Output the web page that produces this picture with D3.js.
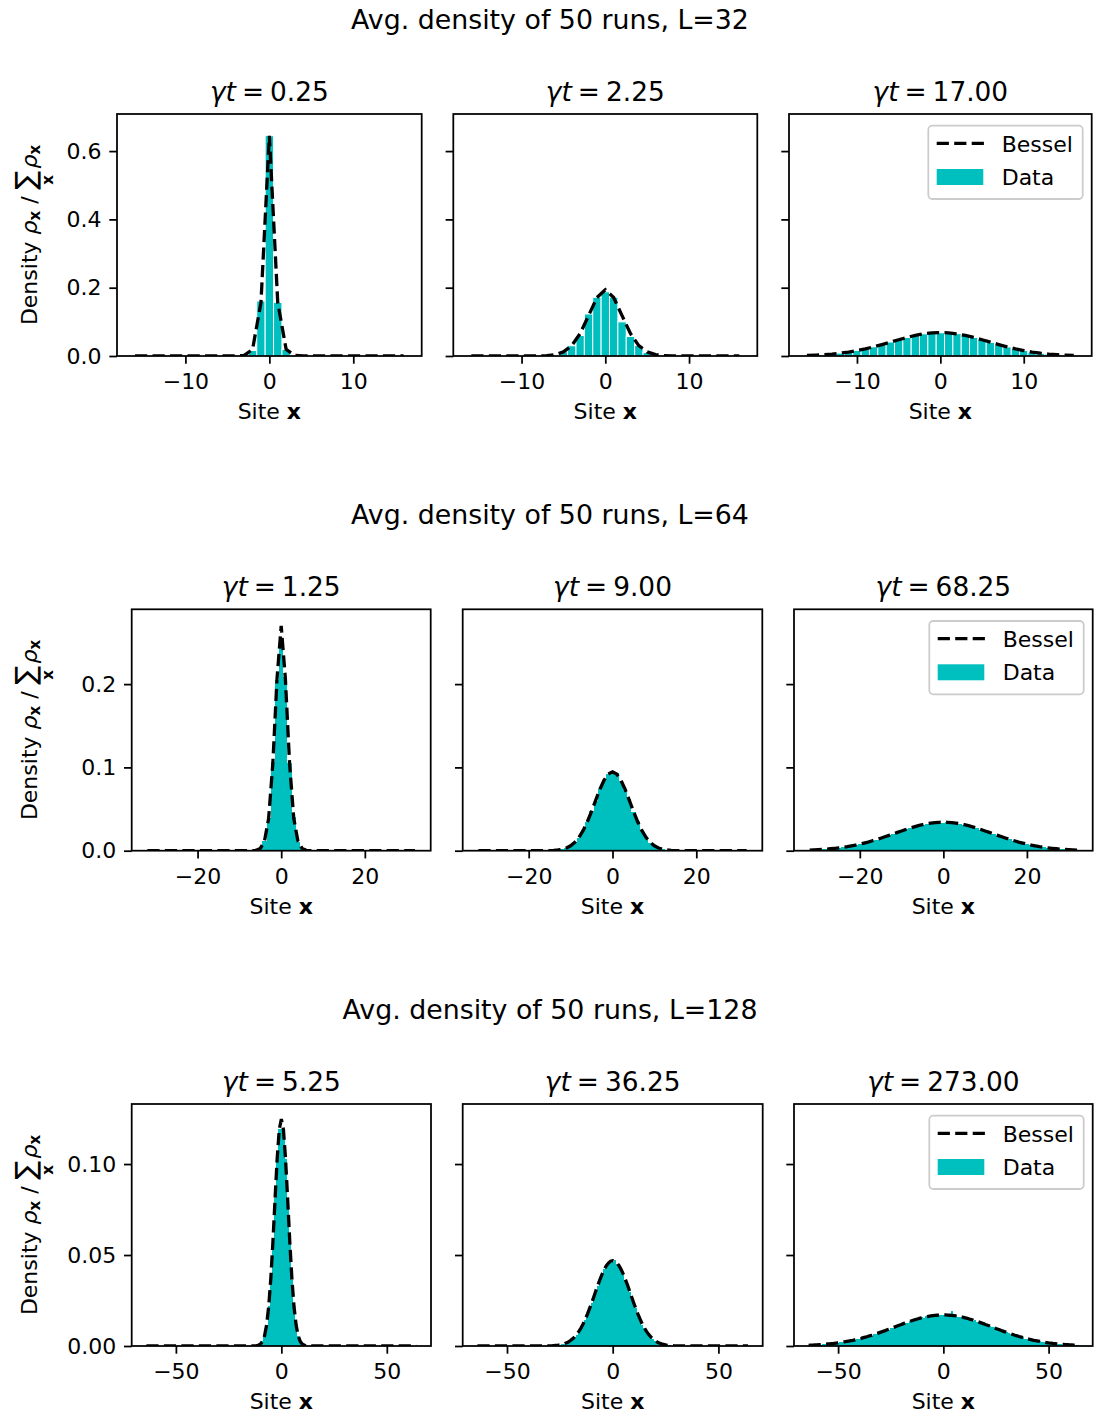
<!DOCTYPE html>
<html lang="en">
<head>
<meta charset="utf-8">
<title>Avg. density of 50 runs</title>
<script src="https://d3js.org/d3.v7.min.js"></script>
<style>
body { margin: 0; background: #fff; }
svg text { font-family: "DejaVu Sans", sans-serif; fill: #000; }
</style>
</head>
<body>
<div id="chart"></div>
<script>
// ---- figure text ----
var supTitles = ["Avg. density of 50 runs, L=32", "Avg. density of 50 runs, L=64", "Avg. density of 50 runs, L=128"];
var latticeSizes = [32, 64, 128];
var gammaT = [["0.25", "2.25", "17.00"], ["1.25", "9.00", "68.25"], ["5.25", "36.25", "273.00"]];
var xTicks = [[-10, 0, 10], [-20, 0, 20], [-50, 0, 50]];
var yTicks = [[0, 0.2, 0.4, 0.6], [0, 0.1, 0.2], [0, 0.05, 0.10]];
var yTickFormat = [".1f", ".1f", ".2f"];
var yLimits = [0.7086, 0.2898, 0.1330];

// ---- L = 32, sites -16..16 ----
var bessel32a = [0,0,0,0,0,0,0,0,0,0,0,0,
  0.0001,0.0016,0.0194,0.1564,0.6450,0.1564,0.0194,0.0016,0.0001,
  0,0,0,0,0,0,0,0,0,0,0,0];
var data32a = [0,0,0,0,0,0,0,0,0,0,0,0,0,
  0.0010,0.0160,0.1610,0.6450,0.1570,0.0190,0.0010,
  0,0,0,0,0,0,0,0,0,0,0,0,0];
var bessel32b = [0,0,0,0,0,0,0,0,
  0.0003,0.0012,0.0040,0.0119,0.0304,0.0659,0.1182,0.1710,0.1942,0.1710,0.1182,0.0659,0.0304,0.0119,0.0040,0.0012,0.0003,
  0,0,0,0,0,0,0,0];
var data32b = [0,0,0,0,0,0,0,0,0,
  0.0010,0.0035,0.0125,0.0300,0.0600,0.1230,0.1720,0.1880,0.1720,0.1000,0.0570,0.0310,0.0100,0.0035,0.0010,
  0,0,0,0,0,0,0,0,0];
var bessel32c = [0.0016,0.0025,0.0039,0.0057,0.0083,0.0116,0.0158,0.0209,0.0268,0.0334,0.0405,0.0476,0.0543,0.0602,0.0648,0.0677,
  0.0687,
  0.0677,0.0648,0.0602,0.0543,0.0476,0.0405,0.0334,0.0268,0.0209,0.0158,0.0116,0.0083,0.0057,0.0039,0.0025,0.0016];
var data32c = [0.0012,0.0022,0.0035,0.0060,0.0085,0.0120,0.0165,0.0205,0.0270,0.0330,0.0410,0.0470,0.0540,0.0595,0.0650,0.0670,
  0.0680,
  0.0672,0.0655,0.0600,0.0545,0.0480,0.0400,0.0330,0.0265,0.0210,0.0160,0.0112,0.0080,0.0058,0.0040,0.0024,0.0014];

// ---- L = 64, sites -32..32 ----
var bessel64a = [0,0,0,0,0,0,0,0,0,0, 0,0,0,0,0,0,0,0,0,0, 0,0,0,0,0,
  0.0001,0.0005,0.0027,0.0113,0.0389,0.1048,0.2066,0.2700,0.2066,0.1048,0.0389,0.0113,0.0027,0.0005,0.0001,
  0,0,0,0,0,0,0,0,0,0, 0,0,0,0,0,0,0,0,0,0, 0,0,0,0,0];
var data64a = [0,0,0,0,0,0,0,0,0,0, 0,0,0,0,0,0,0,0,0,0, 0,0,0,0,0,0,
  0.0006,0.0030,0.0118,0.0395,0.1060,0.2050,0.2540,0.2090,0.1050,0.0400,0.0110,0.0028,0.0005,
  0,0,0,0,0,0,0,0,0,0, 0,0,0,0,0,0,0,0,0,0, 0,0,0,0,0,0];
var bessel64b = [0,0,0,0,0,0,0,0,0,0, 0,0,0,0,0,0,
  0.0001,0.0002,0.0004,0.0009,0.0017,0.0033,0.0059,0.0100,0.0160,0.0243,0.0348,0.0473,0.0607,0.0738,0.0847,0.0921,
  0.0947,
  0.0921,0.0847,0.0738,0.0607,0.0473,0.0348,0.0243,0.0160,0.0100,0.0059,0.0033,0.0017,0.0009,0.0004,0.0002,0.0001,
  0,0,0,0,0,0,0,0,0,0, 0,0,0,0,0,0];
var data64b = [0,0,0,0,0,0,0,0,0,0, 0,0,0,0,0,0,0,
  0.0001,0.0004,0.0008,0.0015,0.0030,0.0060,0.0105,0.0155,0.0250,0.0340,0.0480,0.0600,0.0745,0.0850,0.0915,
  0.0940,
  0.0930,0.0840,0.0730,0.0615,0.0465,0.0355,0.0240,0.0160,0.0098,0.0058,0.0032,0.0016,0.0008,0.0004,0.0001,
  0,0,0,0,0,0,0,0,0,0, 0,0,0,0,0,0,0];
var bessel64c = [0.0008,0.0010,0.0013,0.0016,0.0019,0.0024,0.0029,0.0035,0.0042,0.0049,0.0058,0.0068,0.0079,0.0091,0.0104,0.0119,
  0.0134,0.0150,0.0167,0.0184,0.0202,0.0220,0.0237,0.0254,0.0271,0.0286,0.0300,0.0312,0.0323,0.0331,0.0337,0.0341,
  0.0342,
  0.0341,0.0337,0.0331,0.0323,0.0312,0.0300,0.0286,0.0271,0.0254,0.0237,0.0220,0.0202,0.0184,0.0167,0.0150,0.0134,
  0.0119,0.0104,0.0091,0.0079,0.0068,0.0058,0.0049,0.0042,0.0035,0.0029,0.0024,0.0019,0.0016,0.0013,0.0010,0.0008];
var data64c = [0.0007,0.0011,0.0012,0.0017,0.0018,0.0025,0.0028,0.0036,0.0040,0.0050,
  0.0057,0.0070,0.0078,0.0092,0.0102,0.0120,0.0132,0.0151,0.0165,0.0186,
  0.0200,0.0222,0.0235,0.0256,0.0268,0.0288,0.0298,0.0314,0.0320,0.0333,
  0.0335,0.0338,
  0.0336,
  0.0339,0.0334,0.0328,0.0325,0.0309,0.0302,0.0284,0.0273,0.0251,0.0239,
  0.0218,0.0204,0.0182,0.0169,0.0148,0.0136,0.0117,0.0105,0.0090,0.0080,
  0.0067,0.0059,0.0048,0.0043,0.0034,0.0030,0.0023,0.0020,0.0015,0.0014,
  0.0009,0.0008];

// ---- L = 128, sites -64..64 ----
var bessel128a = [0,0,0,0,0,0,0,0,0,0, 0,0,0,0,0,0,0,0,0,0, 0,0,0,0,0,0,0,0,0,0, 0,0,0,0,0,0,0,0,0,0, 0,0,0,0,0,0,0,0,0,0, 0,0,
  0.0001,0.0004,0.0010,0.0024,0.0055,0.0115,0.0217,0.0370,0.0573,0.0805,0.1026,0.1189,
  0.1247,
  0.1189,0.1026,0.0805,0.0573,0.0370,0.0217,0.0115,0.0055,0.0024,0.0010,0.0004,0.0001,
  0,0,0,0,0,0,0,0,0,0, 0,0,0,0,0,0,0,0,0,0, 0,0,0,0,0,0,0,0,0,0, 0,0,0,0,0,0,0,0,0,0, 0,0,0,0,0,0,0,0,0,0, 0,0];
var data128a = [0,0,0,0,0,0,0,0,0,0, 0,0,0,0,0,0,0,0,0,0, 0,0,0,0,0,0,0,0,0,0, 0,0,0,0,0,0,0,0,0,0, 0,0,0,0,0,0,0,0,0,0, 0,0,
  0.0001,0.0004,0.0010,0.0025,0.0058,0.0115,0.0220,0.0375,0.0575,0.0815,0.1040,0.1190,
  0.1190,
  0.1175,0.1030,0.0800,0.0570,0.0365,0.0210,0.0120,0.0054,0.0023,0.0011,0.0004,0.0001,
  0,0,0,0,0,0,0,0,0,0, 0,0,0,0,0,0,0,0,0,0, 0,0,0,0,0,0,0,0,0,0, 0,0,0,0,0,0,0,0,0,0, 0,0,0,0,0,0,0,0,0,0, 0,0];
var bessel128b = [0,0,0,0,0,0,0,0,0,0, 0,0,0,0,0,0,0,0,0,0, 0,0,0,0,0,0,0,0,0,0, 0,0,0,0,
  0.0001,0.0001,0.0002,0.0003,0.0004,0.0006,0.0009,0.0012,0.0017,0.0022,0.0030,0.0039,0.0050,0.0064,0.0080,
  0.0099,0.0121,0.0146,0.0174,0.0204,0.0235,0.0268,0.0302,0.0335,0.0366,0.0395,0.0420,0.0441,0.0456,0.0466,
  0.0469,
  0.0466,0.0456,0.0441,0.0420,0.0395,0.0366,0.0335,0.0302,0.0268,0.0235,0.0204,0.0174,0.0146,0.0121,0.0099,
  0.0080,0.0064,0.0050,0.0039,0.0030,0.0022,0.0017,0.0012,0.0009,0.0006,0.0004,0.0003,0.0002,0.0001,0.0001,
  0,0,0,0,0,0,0,0,0,0, 0,0,0,0,0,0,0,0,0,0, 0,0,0,0,0,0,0,0,0,0, 0,0,0,0];
var data128b = [0,0,0,0,0,0,0,0,0,0, 0,0,0,0,0,0,0,0,0,0, 0,0,0,0,0,0,0,0,0,0, 0,0,0,0,0,0,
  0.0002,0.0004,0.0005,0.0006,0.0010,0.0012,0.0018,0.0021,0.0031,0.0038,
  0.0052,0.0062,0.0082,0.0097,0.0124,0.0143,0.0177,0.0201,0.0238,0.0265,
  0.0305,0.0331,0.0370,0.0390,0.0425,0.0436,0.0460,0.0458,
  0.0462,
  0.0470,0.0452,0.0445,0.0415,0.0400,0.0362,0.0340,0.0298,0.0272,0.0232,
  0.0207,0.0171,0.0149,0.0118,0.0101,0.0078,0.0065,0.0049,0.0040,0.0029,
  0.0023,0.0016,0.0013,0.0008,0.0007,0.0004,0.0003,0.0002,
  0,0,0,0,0,0,0,0,0,0, 0,0,0,0,0,0,0,0,0,0, 0,0,0,0,0,0,0,0,0,0, 0,0,0,0,0,0];
var bessel128c = [0.0004,0.0005,0.0005,0.0006,0.0006,0.0007,0.0008,0.0009,0.0010,0.0011,
  0.0012,0.0013,0.0014,0.0016,0.0017,0.0019,0.0021,0.0023,0.0025,0.0027,
  0.0029,0.0031,0.0034,0.0037,0.0039,0.0042,0.0046,0.0049,0.0052,0.0056,
  0.0059,0.0063,0.0067,0.0071,0.0075,0.0079,0.0083,0.0088,0.0092,0.0096,
  0.0101,0.0105,0.0110,0.0114,0.0118,0.0123,0.0127,0.0131,0.0135,0.0139,
  0.0143,0.0146,0.0150,0.0153,0.0156,0.0159,0.0161,0.0163,0.0165,0.0167,
  0.0168,0.0169,0.0170,0.0171,
  0.0171,
  0.0171,0.0170,0.0169,0.0168,0.0167,0.0165,0.0163,0.0161,0.0159,0.0156,
  0.0153,0.0150,0.0146,0.0143,0.0139,0.0135,0.0131,0.0127,0.0123,0.0118,
  0.0114,0.0110,0.0105,0.0101,0.0096,0.0092,0.0088,0.0083,0.0079,0.0075,
  0.0071,0.0067,0.0063,0.0059,0.0056,0.0052,0.0049,0.0046,0.0042,0.0039,
  0.0037,0.0034,0.0031,0.0029,0.0027,0.0025,0.0023,0.0021,0.0019,0.0017,
  0.0016,0.0014,0.0013,0.0012,0.0011,0.0010,0.0009,0.0008,0.0007,0.0006,
  0.0006,0.0005,0.0005,0.0004];
var data128c = [0.0004,0.0004,0.0005,0.0005,0.0006,0.0008,0.0007,0.0010,0.0009,0.0012,
  0.0011,0.0014,0.0013,0.0017,0.0016,0.0020,0.0020,0.0024,0.0023,0.0028,
  0.0027,0.0033,0.0032,0.0038,0.0037,0.0044,0.0044,0.0051,0.0050,0.0058,
  0.0057,0.0066,0.0065,0.0074,0.0073,0.0082,0.0081,0.0091,0.0090,0.0099,
  0.0098,0.0108,0.0107,0.0117,0.0115,0.0126,0.0125,0.0129,0.0138,0.0136,
  0.0145,0.0144,0.0152,0.0150,0.0158,0.0156,0.0164,0.0160,0.0167,0.0163,
  0.0171,0.0166,0.0172,0.0169,
  0.0168,
  0.0173,0.0166,0.0170,0.0192,0.0165,0.0168,0.0161,0.0158,0.0160,0.0153,
  0.0155,0.0148,0.0149,0.0140,0.0141,0.0133,0.0134,0.0124,0.0121,0.0120,
  0.0112,0.0111,0.0103,0.0104,0.0094,0.0093,0.0085,0.0086,0.0077,0.0076,
  0.0069,0.0068,0.0061,0.0060,0.0054,0.0053,0.0047,0.0047,0.0041,0.0040,
  0.0035,0.0035,0.0030,0.0030,0.0025,0.0026,0.0021,0.0022,0.0018,0.0018,
  0.0015,0.0015,0.0012,0.0012,0.0010,0.0010,0.0008,0.0008,0.0007,0.0006,
  0.0006,0.0004,0.0005,0.0003];

var besselSets = [[bessel32a, bessel32b, bessel32c], [bessel64a, bessel64b, bessel64c], [bessel128a, bessel128b, bessel128c]];
var dataSets = [[data32a, data32b, data32c], [data64a, data64b, data64c], [data128a, data128b, data128c]];

// ---- layout (pixels) ----
var width = 1094, height = 1416;
var supY = [28.5, 523.5, 1018.5];
var rowTop = [114, 609.3, 1104];
var rowBottom = [356, 850.7, 1346];
var colLeft = [[117, 453.3, 789], [131.7, 462.7, 794], [131.7, 462.7, 794]];
var colRight = [[421.7, 757.3, 1091.7], [430.7, 762.3, 1092.7], [431, 762.7, 1092.7]];
var tickFont = 22, titleFont = 26.4, supFont = 26.8;
var barColor = "#00bfbf";
var lineW = 1.76;

var svg = d3.select("#chart").append("svg")
  .attr("width", width)
  .attr("height", height);
svg.append("rect").attr("width", width).attr("height", height).attr("fill", "#fff");

function minusFmt(d) {
  return d < 0 ? "\u2212" + (-d) : String(d);
}

function styleAxis(a) {
  a.select(".domain").remove();
  a.selectAll(".tick line").attr("stroke", "#000").attr("stroke-width", lineW);
  a.selectAll(".tick text")
    .style("font-size", tickFont + "px")
    .style("font-family", "'DejaVu Sans', sans-serif")
    .attr("fill", "#000");
}

// y label: Density rho_x / sum_x rho_x, built piece by piece
function drawYLabel(cx, cy) {
  var outer = svg.append("g").attr("transform", "translate(" + cx + "," + cy + ") rotate(-90)");
  var lab = outer.append("g");
  var pos = 0;
  function piece(txt, size, style, weight, dy) {
    var t = lab.append("text")
      .attr("x", pos).attr("y", dy || 0)
      .style("font-size", size + "px")
      .style("font-style", style || "normal")
      .style("font-weight", weight || "normal")
      .style("white-space", "pre")
      .text(txt);
    var w = t.node().getComputedTextLength();
    pos += w;
    return w;
  }
  piece("Density\u00a0", 22);
  piece("\u03c1", 22, "italic");
  piece("x", 15, null, "bold", 3);
  piece("\u00a0/\u00a0", 22);
  var sw = piece("\u2211", 28, null, null, -2);
  lab.append("text")
    .attr("x", pos - sw / 2).attr("y", 16)
    .attr("text-anchor", "middle")
    .style("font-size", "15px").style("font-weight", "bold")
    .text("x");
  pos += 2;
  piece("\u03c1", 22, "italic");
  piece("x", 15, null, "bold", 3);
  lab.attr("transform", "translate(" + (-pos / 2) + ",0)");
}

function drawLegend(right, top) {
  var bw = 154.4, bh = 73.3;
  var bx = right - 9 - bw, by = top + 11.7;
  var lg = svg.append("g");
  lg.append("rect")
    .attr("x", bx).attr("y", by).attr("width", bw).attr("height", bh)
    .attr("rx", 4).attr("ry", 4)
    .attr("fill", "#fff").attr("fill-opacity", 0.8)
    .attr("stroke", "#cccccc").attr("stroke-width", lineW);
  lg.append("line")
    .attr("x1", bx + 8.4).attr("x2", bx + 55.6)
    .attr("y1", by + 17.6).attr("y2", by + 17.6)
    .attr("stroke", "#000").attr("stroke-width", 3.3)
    .attr("stroke-dasharray", "12.2,5.3");
  lg.append("rect")
    .attr("x", bx + 8.4).attr("y", by + 43.3).attr("width", 46.6).attr("height", 16)
    .attr("fill", barColor);
  lg.append("text").attr("x", bx + 73.4).attr("y", by + 26)
    .style("font-size", tickFont + "px").text("Bessel");
  lg.append("text").attr("x", bx + 73.4).attr("y", by + 59)
    .style("font-size", tickFont + "px").text("Data");
}

function drawPanel(r, c) {
  var L = latticeSizes[r];
  var left = colLeft[r][c], right = colRight[r][c];
  var top = rowTop[r], bottom = rowBottom[r];
  var bes = besselSets[r][c], dat = dataSets[r][c];
  if (bes.length !== L + 1 || dat.length !== L + 1) {
    throw new Error("bad length in panel " + r + "," + c + ": " + bes.length + " / " + dat.length);
  }

  // histogram bins are one site wide, matplotlib adds 5% margin
  var half = (L + 1) / 2, margin = 0.05 * (L + 1);
  var x = d3.scaleLinear().domain([-half - margin, half + margin]).range([left, right]);
  var y = d3.scaleLinear().domain([0, yLimits[r]]).range([bottom, top]);

  var g = svg.append("g");
  var clipId = "clip" + r + "" + c;
  g.append("clipPath").attr("id", clipId)
    .append("rect").attr("x", left).attr("y", top).attr("width", right - left).attr("height", bottom - top);
  var plot = g.append("g").attr("clip-path", "url(#" + clipId + ")");

  var bars = dat.map(function(v, i) { return {site: i - L / 2, v: v}; })
    .filter(function(d) { return d.v > 0; });
  plot.selectAll("rect.bar")
    .data(bars)
    .join("rect")
    .attr("class", "bar")
    .attr("x", function(d) { return x(d.site - 0.5); })
    .attr("width", function(d) { return x(d.site + 0.5) - x(d.site - 0.5); })
    .attr("y", function(d) { return y(d.v); })
    .attr("height", function(d) { return bottom - y(d.v); })
    .attr("fill", barColor)
    .attr("stroke", L === 32 ? "#fff" : "none")
    .attr("stroke-width", 1)
    .attr("shape-rendering", L === 32 ? "auto" : "crispEdges");

  var line = d3.line()
    .x(function(d, i) { return x(i - L / 2); })
    .y(function(d) { return y(d); });
  plot.append("path")
    .datum(bes)
    .attr("d", line)
    .attr("fill", "none")
    .attr("stroke", "#000")
    .attr("stroke-width", 3.3)
    .attr("stroke-dasharray", "12.2,5.3");

  // axes
  var xAxis = d3.axisBottom(x).tickValues(xTicks[r]).tickSize(7.7).tickPadding(10).tickFormat(minusFmt);
  g.append("g").attr("transform", "translate(0," + bottom + ")").call(xAxis).call(styleAxis);

  var yAxis = d3.axisLeft(y).tickValues(yTicks[r]).tickSize(7.7).tickPadding(7.7)
    .tickFormat(c === 0 ? d3.format(yTickFormat[r]) : function() { return ""; });
  g.append("g").attr("transform", "translate(" + left + ",0)").call(yAxis).call(styleAxis);

  g.append("rect")
    .attr("x", left).attr("y", top).attr("width", right - left).attr("height", bottom - top)
    .attr("fill", "none").attr("stroke", "#000").attr("stroke-width", lineW);

  // subplot title (math style: tighter spacing round "=")
  var t = g.append("text")
    .attr("x", (left + right) / 2).attr("y", top - 13.2)
    .attr("text-anchor", "middle")
    .style("font-size", titleFont + "px");
  t.append("tspan").style("font-style", "italic").text("\u03b3t");
  t.append("tspan").attr("dx", 6).text("=");
  t.append("tspan").attr("dx", 6).text(gammaT[r][c]);

  // x label
  var xl = g.append("text")
    .attr("x", (left + right) / 2).attr("y", bottom + 63.3)
    .attr("text-anchor", "middle")
    .style("font-size", tickFont + "px")
    .style("white-space", "pre");
  xl.append("tspan").text("Site\u00a0");
  xl.append("tspan").style("font-weight", "bold").text("x");

  if (c === 0) drawYLabel(37, (top + bottom) / 2);
  if (c === 2) drawLegend(right, top);
}

for (var r = 0; r < 3; r++) {
  svg.append("text")
    .attr("x", 550).attr("y", supY[r])
    .attr("text-anchor", "middle")
    .style("font-size", supFont + "px")
    .text(supTitles[r]);
  for (var c = 0; c < 3; c++) {
    drawPanel(r, c);
  }
}
</script>
</body>
</html>
